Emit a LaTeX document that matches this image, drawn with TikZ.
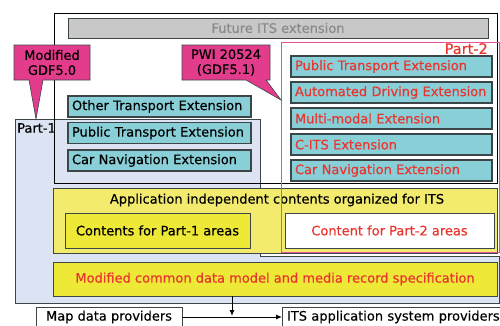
\documentclass[tikz,border=0pt]{standalone}
\usepackage{fontspec}
\setmainfont{DejaVu Sans}[FakeBold=0.35]
\usetikzlibrary{arrows.meta}
\definecolor{pblue}{HTML}{DCE3F2}
\definecolor{extteal}{HTML}{88CFD8}
\definecolor{edgegray}{HTML}{3C4648}
\definecolor{futgray}{HTML}{C8C8C8}
\definecolor{futtext}{HTML}{8A8A8A}
\definecolor{yellowlt}{HTML}{F2EB6E}
\definecolor{yellowdk}{HTML}{EEE836}
\definecolor{redtxt}{HTML}{E8352E}
\definecolor{pinkedge}{HTML}{E8509A}
\definecolor{callfill}{HTML}{E43C8C}
\tikzset{
  txt/.style={font=\fontsize{13}{15}\selectfont},
  box/.style={draw=edgegray, line width=0.8pt, outer sep=0pt, inner sep=0pt},
  extbox/.style={box, line width=1.1pt, fill=extteal, minimum height=21pt, inner xsep=4pt, align=left, txt},
  leftext/.style={extbox, text width=175pt},
  rightext/.style={extbox, text width=193pt, text=redtxt},
  callout/.style={fill=callfill, draw=edgegray, line width=0.6pt, line join=miter},
  arr/.style={line width=1pt, -{Latex[length=6pt,width=5pt]}}
}
\begin{document}
\begin{tikzpicture}[x=1pt,y=-1pt]
\useasboundingbox (0,0) rectangle (500,325);
\clip (0,0) rectangle (500,325);
% Part-1 region
\draw[fill=pblue, draw=edgegray, line width=0.7pt] (15,119) -- (260,119) -- (260,256) -- (499,256) -- (499,303) -- (15,303) -- cycle;
\node[anchor=north west, inner sep=0pt, font=\fontsize{13}{15}\selectfont] (p1lbl) at (17,123) {Part-1};
% upper frame
\node[draw=black, line width=0.9pt, minimum width=443pt, minimum height=170pt, outer sep=0pt, inner sep=0pt] (upper) at (275.5,98) {};
% future
\node[box, fill=futgray, minimum width=420pt, minimum height=20pt, txt, text=futtext] (future) at (278,28) {Future ITS extension};
% left extensions
\node[leftext] (lo) at (159.5,106.5) {Other Transport Extension};
\node[leftext] (lp) at (159.5,133) {Public Transport Extension};
\node[leftext] (lc) at (159.5,160.5) {Car Navigation Extension};
% right extensions
\node[rightext] (rp) at (391.5,66.5) {Public Transport Extension};
\node[rightext] (ra) at (391.5,92.5) {Automated Driving Extension};
\node[rightext] (rm) at (391.5,118.5) {Multi-modal Extension};
\node[rightext] (rc) at (391.5,144.5) {C-ITS Extension};
\node[rightext] (rn) at (391.5,170.5) {Car Navigation Extension};
% application independent
\node[box, fill=yellowlt, minimum width=444pt, minimum height=65pt] (app) at (275,220.5) {};
\node[txt, inner sep=0pt] (apptxt) at (277,200) {Application independent contents organized for ITS};
\node[box, line width=1pt, fill=yellowdk, minimum width=185pt, minimum height=35pt, txt] (c1) at (157.5,230.5) {Contents for Part-1 areas};
\node[box, line width=1pt, fill=white, minimum width=209pt, minimum height=35pt, txt, text=redtxt] (c2) at (389.5,230.5) {Content for Part-2 areas};
% common
\node[box, line width=1pt, fill=yellowdk, minimum width=444pt, minimum height=34pt, txt, text=redtxt] (common) at (275,279) {Modified common data model and media record specification};
% Part-2 frame
\node[draw=pinkedge, line width=1pt, minimum width=218pt, minimum height=210pt, outer sep=0pt, inner sep=0pt] (part2) at (390,147) {};
\node[anchor=north east, inner sep=0pt, text=redtxt, font=\fontsize{14.5}{16}\selectfont] (p2lbl) at (488,43) {Part-2};
% callouts
\draw[callout] (14,45) -- (90,45) -- (90,80) -- (43,80) -- (36,119) -- (29,80) -- (14,80) -- cycle;
\node[txt, align=center, inner sep=0pt] (co1) at (52,62.5) {Modified\\GDF5.0};
\draw[callout] (182,45) -- (270,45) -- (270,80) -- (266,80) -- (281,100) -- (246,80) -- (182,80) -- cycle;
\node[txt, align=center, inner sep=0pt] (co2) at (226,62.5) {PWI 20524\\(GDF5.1)};
% providers
\node[box, line width=0.9pt, fill=white, minimum width=146pt, minimum height=20pt, txt] (map) at (109,317) {Map data providers};
\node[box, line width=0.9pt, fill=white, minimum height=20pt, text width=218pt, inner xsep=5pt, align=left, txt, anchor=west] (its) at (282,317) {ITS application system providers};
\coordinate (j) at (232,316);
\draw[arr] (map.east) -- (its.west);
\draw[arr] (common.south -| j) -- (j);
\end{tikzpicture}
\end{document}
